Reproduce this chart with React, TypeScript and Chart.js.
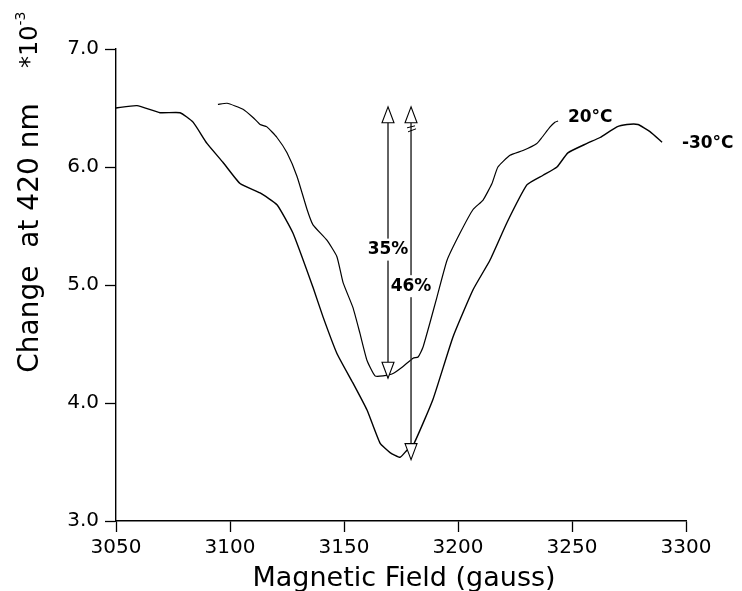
import React, { useEffect, useRef } from "react";
import { Chart, registerables } from "chart.js";

Chart.register(...registerables);

// -30 °C trace (field in gauss, change at 420 nm ×10^-3)
const FIELD_COLD = [
  3050.0, 3059.2, 3069.3, 3078.1, 3083.8, 3089.9, 3096.9, 3104.4, 3113.2, 3120.6,
  3127.6, 3136.4, 3140.8, 3146.9, 3153.9, 3160.1, 3165.8, 3170.2, 3174.6, 3177.6,
  3180.3, 3189.0, 3197.8, 3206.6, 3214.0, 3221.5, 3230.3, 3237.3, 3243.4, 3248.2,
  3256.6, 3262.3, 3269.7, 3274.1, 3278.9, 3284.2, 3289.5,
];
const VALUE_COLD = [
  6.50, 6.52, 6.46, 6.46, 6.38, 6.20, 6.04, 5.86, 5.78, 5.68,
  5.44, 4.98, 4.73, 4.42, 4.17, 3.94, 3.66, 3.58, 3.54, 3.60,
  3.64, 4.03, 4.56, 4.96, 5.21, 5.53, 5.85, 5.93, 6.00, 6.12,
  6.20, 6.25, 6.34, 6.36, 6.36, 6.30, 6.21,
];

// 20 °C trace
const FIELD_WARM = [
  3094.7, 3098.7, 3105.7, 3110.1, 3113.2, 3116.2, 3120.6, 3125.0, 3129.4, 3133.8,
  3136.4, 3142.5, 3146.9, 3149.6, 3153.9, 3157.0, 3160.1, 3163.6, 3167.1, 3171.5,
  3175.9, 3180.3, 3182.5, 3184.6, 3187.7, 3190.8, 3195.2, 3200.9, 3206.6, 3211.0,
  3214.9, 3217.5, 3222.8, 3228.5, 3234.6, 3236.8, 3240.4, 3242.5, 3243.9,
];
const VALUE_WARM = [
  6.53, 6.54, 6.49, 6.42, 6.36, 6.34, 6.25, 6.12, 5.92, 5.64,
  5.51, 5.38, 5.24, 5.02, 4.81, 4.59, 4.36, 4.23, 4.23, 4.25,
  4.31, 4.38, 4.39, 4.47, 4.68, 4.90, 5.21, 5.44, 5.64, 5.72,
  5.86, 6.00, 6.10, 6.14, 6.20, 6.25, 6.34, 6.38, 6.39,
];

// axis ranges
const X_MIN = 3050;
const X_MAX = 3300;
const X_STEP = 50;
const Y_MIN = 3;
const Y_MAX = 7;
const Y_STEP = 1;

// texts
const X_TITLE = "Magnetic Field (gauss)";
const Y_TITLE = "Change  at 420 nm";
const Y_UNIT = "*10";
const Y_UNIT_EXP = "-3";

// curve labels
const CURVE_LABELS = ["20°C", "-30°C"];
const CURVE_LABEL_X = [3248.2, 3298.2];
const CURVE_LABEL_Y = [6.42, 6.2];

// arrows (percentage change)
const ARROW_FIELD = [3169.3, 3179.4];
const ARROW_TOP = [6.51, 6.51];
const ARROW_BOTTOM = [4.21, 3.52];
const ARROW_LABELS = ["35%", "46%"];
const ARROW_LABEL_Y = [5.3, 4.99];

const FONT = "'DejaVu Sans', 'Liberation Sans', sans-serif";

function toPoints(xs: number[], ys: number[]) {
  return xs.map((x, i) => ({ x, y: ys[i] }));
}

const annotationPlugin = {
  id: "annotations",
  afterDraw(chart: any) {
    const ctx = chart.ctx as CanvasRenderingContext2D;
    const xs = chart.scales.x;
    const ys = chart.scales.y;
    ctx.save();
    ctx.fillStyle = "#000";
    ctx.strokeStyle = "#000";

    // x title
    ctx.font = `27px ${FONT}`;
    ctx.textAlign = "center";
    ctx.textBaseline = "alphabetic";
    ctx.fillText(X_TITLE, 404, 586);

    // y title (rotated)
    ctx.save();
    ctx.translate(38, 238);
    ctx.rotate(-Math.PI / 2);
    ctx.font = `28px ${FONT}`;
    ctx.textAlign = "center";
    ctx.fillText(Y_TITLE, 0, 0);
    ctx.restore();

    // unit *10^-3 (rotated)
    ctx.save();
    ctx.translate(37, 68);
    ctx.rotate(-Math.PI / 2);
    ctx.font = `24px ${FONT}`;
    ctx.textAlign = "left";
    ctx.fillText(Y_UNIT, 0, 0);
    const w = ctx.measureText(Y_UNIT).width;
    ctx.font = `14px ${FONT}`;
    ctx.fillText(Y_UNIT_EXP, w, -12);
    ctx.restore();

    // curve labels
    ctx.font = `bold 17px ${FONT}`;
    ctx.textAlign = "left";
    ctx.textBaseline = "middle";
    CURVE_LABELS.forEach((t, i) => {
      ctx.fillText(t, xs.getPixelForValue(CURVE_LABEL_X[i]), ys.getPixelForValue(CURVE_LABEL_Y[i]));
    });

    // arrows
    const triW = 6;
    const triH = 16;
    ARROW_FIELD.forEach((f, i) => {
      const x = xs.getPixelForValue(f);
      const yT = ys.getPixelForValue(ARROW_TOP[i]);
      const yB = ys.getPixelForValue(ARROW_BOTTOM[i]);
      ctx.lineWidth = 1.4;
      ctx.strokeStyle = "#222";
      ctx.beginPath();
      ctx.moveTo(x, yT + triH);
      ctx.lineTo(x, yB - triH);
      ctx.stroke();
      ctx.lineWidth = 1.1;
      ctx.strokeStyle = "#000";
      // top triangle
      ctx.beginPath();
      ctx.moveTo(x, yT);
      ctx.lineTo(x - triW, yT + triH);
      ctx.lineTo(x + triW, yT + triH);
      ctx.closePath();
      ctx.fillStyle = "#fff";
      ctx.fill();
      ctx.stroke();
      // bottom triangle
      ctx.beginPath();
      ctx.moveTo(x, yB);
      ctx.lineTo(x - triW, yB - triH);
      ctx.lineTo(x + triW, yB - triH);
      ctx.closePath();
      ctx.fill();
      ctx.stroke();
      // small break mark on second arrow
      if (i === 1) {
        ctx.lineWidth = 1;
        ctx.beginPath();
        ctx.moveTo(x - 4, yT + triH + 5);
        ctx.lineTo(x + 4, yT + triH + 3);
        ctx.moveTo(x - 3, yT + triH + 9);
        ctx.lineTo(x + 5, yT + triH + 6);
        ctx.stroke();
      }
      // label with white background
      ctx.font = `bold 17px ${FONT}`;
      ctx.textAlign = "center";
      ctx.textBaseline = "middle";
      const ly = ys.getPixelForValue(ARROW_LABEL_Y[i]);
      const tw = ctx.measureText(ARROW_LABELS[i]).width;
      ctx.fillStyle = "#fff";
      ctx.fillRect(x - tw / 2 - 1, ly - 11, tw + 2, 22);
      ctx.fillStyle = "#000";
      ctx.fillText(ARROW_LABELS[i], x, ly);
    });
    ctx.restore();
  },
};

export default function App() {
  const canvasRef = useRef<HTMLCanvasElement | null>(null);

  useEffect(() => {
    if (!canvasRef.current) return;
    const tickFont = { family: FONT, size: 20 };
    const chart = new Chart(canvasRef.current, {
      type: "line",
      data: {
        datasets: [
          {
            label: "-30°C",
            data: toPoints(FIELD_COLD, VALUE_COLD),
            borderColor: "#000",
            borderWidth: 1.4,
            pointRadius: 0,
            tension: 0.15,
            fill: false,
          },
          {
            label: "20°C",
            data: toPoints(FIELD_WARM, VALUE_WARM),
            borderColor: "#000",
            borderWidth: 1.2,
            pointRadius: 0,
            tension: 0.15,
            fill: false,
          },
        ],
      },
      options: {
        animation: false,
        responsive: false,
        maintainAspectRatio: false,
        layout: { padding: { top: 49, right: 56, left: 0, bottom: 0 } },
        plugins: { legend: { display: false }, tooltip: { enabled: false }, title: { display: false } },
        scales: {
          x: {
            type: "linear",
            min: X_MIN,
            max: X_MAX,
            ticks: {
              stepSize: X_STEP,
              color: "#000",
              font: tickFont,
              padding: 4,
              maxRotation: 0,
              callback: (v: any) => String(v),
            },
            grid: {
              drawOnChartArea: false,
              drawTicks: true,
              tickLength: 11,
              tickColor: "#000",
              tickWidth: 1.3,
            },
            border: { color: "#000", width: 1.4 },
            afterFit: (scale: any) => {
              scale.height = 70;
            },
          },
          y: {
            type: "linear",
            min: Y_MIN,
            max: Y_MAX,
            ticks: {
              stepSize: Y_STEP,
              color: "#000",
              font: tickFont,
              padding: 6,
              callback: (v: any) => Number(v).toFixed(1),
            },
            grid: {
              drawOnChartArea: false,
              drawTicks: true,
              tickLength: 11,
              tickColor: "#000",
              tickWidth: 1.3,
            },
            border: { color: "#000", width: 1.4 },
            afterFit: (scale: any) => {
              scale.width = 116;
            },
          },
        },
      },
      plugins: [annotationPlugin],
    });
    return () => chart.destroy();
  }, []);

  return (
    <div style={{ position: "absolute", left: 0, top: 0, width: 742, height: 591, background: "#fff" }}>
      <canvas ref={canvasRef} width={742} height={591} style={{ width: 742, height: 591, display: "block" }} />
    </div>
  );
}
